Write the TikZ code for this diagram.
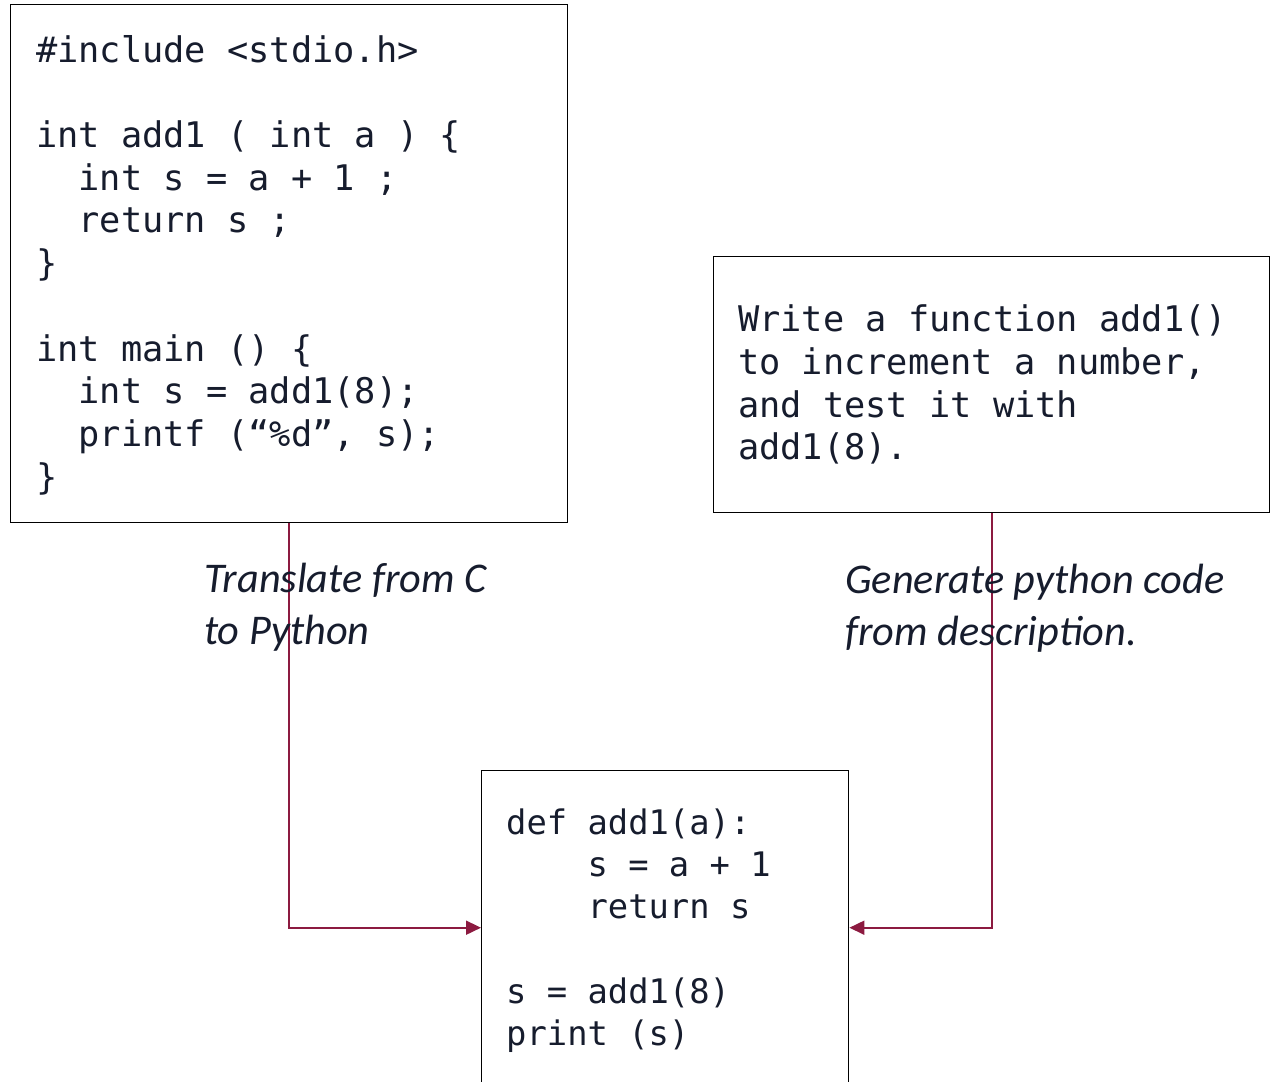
\documentclass[tikz,border=0pt]{standalone}
\usepackage{fontspec}
\usetikzlibrary{arrows.meta}
\newfontfamily\codefont{DejaVu Sans Mono}
\newfontfamily\notefont{Carlito}
\definecolor{ink}{HTML}{161C2D}
\definecolor{wire}{HTML}{8C1A40}
\tikzset{
  panel/.style={draw=black, line width=1.4pt, fill=white, inner sep=0pt, anchor=north west},
  code/.style={anchor=north west, inner sep=0pt, align=left, text=ink,
    font=\codefont\fontsize{35.3}{42.7}\selectfont},
  smallcode/.style={code, font=\codefont\fontsize{33.8}{42.2}\selectfont},
  note/.style={anchor=north west, inner sep=0pt, align=left, text=ink,
    font=\notefont\itshape\fontsize{42.3}{52.5}\selectfont},
  conn/.style={draw=wire, line width=1.8pt, -{Triangle[length=15pt,width=14pt]}},
}
\newcommand{\ind}[1]{\hphantom{#1}}
\begin{document}
\begin{tikzpicture}[x=1pt,y=-1pt]
  \clip (0,0) rectangle (1276,1081);
  \fill[white] (0,0) rectangle (1276,1081);

  % the three boxes
  \node[panel, minimum width=557pt, minimum height=518pt] (cbox) at (10,4) {};
  \node[panel, minimum width=556pt, minimum height=256pt] (dbox) at (713,256) {};
  \node[panel, minimum width=367pt, minimum height=314pt] (pybox) at (481,770) {};

  % C source
  \node[code] (ccode) at (36,32.1) {\strut\#include <stdio.h>\\[42.7pt]
int add1 ( int a ) \{\\
\ind{xx}int s = a + 1 ;\\
\ind{xx}return s ;\\
\}\\[42.7pt]
int main () \{\\
\ind{xx}int s = add1(8);\\
\ind{xx}printf (“\%d”, s);\\
\}};

  % task description
  \node[code] (dtext) at (738,301.8) {\strut Write a function add1()\\
to increment a number,\\
and test it with\\
add1(8).};

  % Python result
  \node[smallcode] (pycode) at (506,804.5) {\strut def add1(a):\\
\ind{xxxx}s = a + 1\\
\ind{xxxx}return s\\[42.2pt]
s = add1(8)\\
print (s)};

  % connectors
  \draw[conn] (cbox.south) |- (pybox.west);
  \draw[conn] (dbox.south) |- (pybox.east);

  % connector labels
  \node[note] (tl) at (204,555.3) {\strut Translate from C\\to Python};
  \node[note] (gl) at (845,556.3) {\strut Generate python code\\from description.};
\end{tikzpicture}
\end{document}
